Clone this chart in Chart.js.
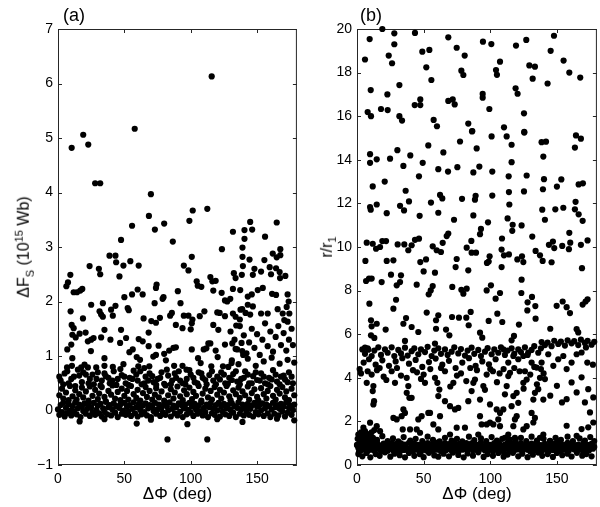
<!DOCTYPE html>
<html>
<head>
<meta charset="utf-8">
<script src="https://cdn.jsdelivr.net/npm/chart.js@4.4.1/dist/chart.umd.min.js"></script>
<style>
body { margin: 0; background: #fff; width: 600px; height: 507px; position: relative; overflow: hidden;
       font-family: "Liberation Sans", Arial, sans-serif; color: #000; }
canvas { position: absolute; top: 0; }
#chartA { left: 0; }
#chartB { left: 300px; }
.panel { position: absolute; top: 5px; font-size: 18px; }
.ytitle { position: absolute; font-size: 16px; white-space: nowrap; transform: translate(-50%, -50%) rotate(-90deg); }
.ytitle sub, .ytitle sup { font-size: 11px; }
</style>
</head>
<body>
<canvas id="chartA" width="300" height="507"></canvas>
<canvas id="chartB" width="300" height="507"></canvas>
<div class="panel" style="left:63px">(a)</div>
<div class="panel" style="left:360px">(b)</div>
<div class="ytitle" style="left:24px; top:247px">&Delta;F<sub>S</sub> (10<sup>15</sup> Wb)</div>
<div class="ytitle" style="left:328px; top:247px">r/r<sub>1</sub></div>
<script>
/* ---------- axes ---------- */
const phiTicks = [0, 50, 100, 150];
const dfTicks = [-1, 0, 1, 2, 3, 4, 5, 6, 7];
const rTicks = [0, 2, 4, 6, 8, 10, 12, 14, 16, 18, 20];

/* ---------- panel (a) : [dPhi (deg), dF_S (1e15 Wb)] ---------- */
const aHigh = [
  [10.3,4.82],[19,5.06],[22.8,4.88],[28,4.17],[31.8,4.17],[57.8,5.17],[115.8,6.13],[70,3.97],[68.5,3.57],
  [73,3.32],[80,3.43],[55.8,3.39],[47.5,3.13],[86.5,3.1],[99,3.48],[101.5,3.67],[112.5,3.7],[131.8,3.28],
  [123.5,2.96],[139,2.99],[38.8,2.84],[43.3,2.84],[43.8,2.72],[49.3,2.66],[54.5,2.74],[60.8,2.66],[23.8,2.65],
  [30.8,2.6],[31.8,2.5],[100.8,2.82],[94.8,2.66],[98.3,2.57],[139,2.82],[144.8,3.46],[164.8,3.45],[140.5,3.31],
  [140.5,3.15],[146.3,3.32],[156,3.19],[167.5,2.96],[167.5,2.85],[144.3,2.77],[155.5,2.76],[159.5,2.63],
  [164.3,2.61],[164.8,2.81],[161.8,2.88],[132.5,2.52],[138.5,2.49],[139.3,2.65],[146.8,2.49],[148,2.6],
  [153,2.55],[160.5,2.5],[167,2.54]
];
const aMid = [
  [46.3,2.46],[6.3,2.28],[7.5,2.35],[9.3,2.49],[11.8,2.17],[14.3,2.17],[16.8,2.2],[18.3,2.23],[25,1.94],
  [33.8,1.97],[50,2.08],[55.8,2.13],[60,2.22],[63.8,2.13],[74.3,2.31],[73.8,2.25],[78.8,2.05],[79.5,2.08],
  [72.8,1.97],[90.3,2.19],[92.3,1.97],[104.5,2.37],[105.3,2.29],[108,2.27],[114.8,2.45],[116.3,2.37],
  [118.8,2.38],[117,2.2],[123.3,2.16],[125.8,2.02],[127.5,2.0],[129.8,2.05],[133.8,2.43],[137.5,1.85],
  [9.5,1.82],[10.3,1.57],[11.8,1.51],[18.8,1.69],[31.3,1.82],[32.5,1.76],[33.8,1.72],[40,1.85],[41.3,1.74],
  [43.3,1.92],[52.5,1.88],[53.3,1.84],[64.5,1.69],[70.3,1.64],[73.8,1.61],[76.8,1.7],[84.5,1.74],[85.8,1.79],
  [88.8,1.57],[93.8,1.51],[94.8,1.74],[98.3,1.74],[100,1.49],[100.8,1.6],[101.3,1.67],[106.8,1.73],
  [110.3,1.82],[117,1.57],[120.8,1.48],[120,1.8],[121.8,1.79],[125.8,1.73],[131.8,1.78],[134.3,1.56],[137,1.67],
  [7,1.12],[10,1.21],[13.3,1.34],[16.3,1.41],[10.8,1.39],[22.5,1.27],[25,1.3],[26.8,1.33],[20.8,1.43],
  [24.8,1.09],[32.5,1.34],[35,1.48],[39.5,1.3],[46.8,1.24],[47.5,1.48],[51.3,1.33],[56.3,1.12],[60.8,1.31],
  [63.8,1.27],[68.3,1.43],[68.3,1.18],[75.8,1.19],[80,1.04],[83.8,1.1],[87,1.15],[88.8,1.16],[100.8,1.12],
  [109.8,1.12],[111.8,1.14],[113.3,1.23],[114.8,1.23],[118.8,1.1],[120.3,0.98],[125.8,1.21],[131.3,1.23],
  [133.8,1.13],[138.3,1.24],[131.8,2.23],[137.3,2.21],[143,2.09],[146,2.13],[150.5,2.21],[154.3,2.25],
  [161.3,2.14],[164.3,2.12],[173,2.13],[173.8,2.0],[172.3,1.9],[138.8,1.86],[143,1.94],[146.8,1.91],
  [133.8,1.72],[141.3,1.79],[144.8,1.76],[153,1.78],[158,1.78],[165.5,1.86],[169.3,1.78],[174.3,1.78],
  [170.5,1.66],[173,1.63],[171.3,2.47],[167.3,2.43],[130,1.45],[133,1.3],[135,1.12],[137,1.55],[140,1.38],
  [142,1.05],[144,1.25],[146,1.5],[148,1.15],[150,1.4],[152,1.02],[154,1.3],[156,1.6],[158,1.18],[160,1.45],
  [162,1.08],[164,1.35],[166,1.55],[168,1.2],[170,1.42],[172,1.1],[174,1.3],[176,1.5],[177,1.2]
];
const aLow = [
  [6.8,0.79],[10.5,0.82],[10.8,0.96],[17.5,0.79],[20,0.84],[22.5,0.79],[28.8,0.79],[35,0.82],[41.3,0.8],
  [35,0.96],[49.3,0.85],[53.8,1.07],[59.3,0.98],[61.8,0.93],[60.5,0.81],[65,0.78],[68.8,0.81],[71.8,0.99],
  [73.8,1.02],[81.3,0.92],[87.5,0.82],[93.8,0.82],[96.8,0.75],[105.5,0.96],[107.5,0.87],[115.5,0.81],
  [124.3,0.81],[128.3,0.8],[130.8,0.87],[139.5,1.02],[138.8,1.09],[131,0.92],[136,0.85],[143,0.95],[149,0.82],
  [155,0.9],[161,0.97],[167,0.86],[173,0.93],[178,0.88],
  [2,0.55],[5,0.68],[8,0.5],[12,0.62],[15,0.75],[18,0.52],[21,0.66],[24,0.58],[27,0.48],[30,0.7],[33,0.55],
  [36,0.63],[39,0.5],[42,0.72],[45,0.58],[48,0.65],[51,0.5],[54,0.6],[57,0.73],[60,0.55],[63,0.48],[66,0.62],
  [69,0.68],[72,0.52],[75,0.58],[78,0.7],[80,0.49],[83,0.64],[86,0.55],[89,0.6],[91,0.72],[94,0.5],[97,0.58],
  [100,0.66],[103,0.52],[106,0.7],[109,0.6],[112,0.48],[114,0.65],[117,0.55],[120,0.62],[123,0.7],[126,0.5],
  [129,0.6],[132,0.67],[135,0.53],[138,0.58],[141,0.72],[144,0.5],[147,0.63],[150,0.56],[153,0.68],[156,0.5],
  [159,0.6],[162,0.74],[165,0.53],[168,0.62],[171,0.57],[174,0.7],[177,0.5],
  [1,0.62],[4,0.48],[7,0.72],[10,0.58],[13,0.45],[16,0.64],[19,0.7],[23,0.5],[26,0.66],[29,0.58],[32,0.46],
  [35,0.68],[38,0.6],[41,0.55],[44,0.47],[47,0.76],[50,0.62],[53,0.47],[56,0.58],[59,0.66],[62,0.72],[65,0.5],
  [68,0.55],[71,0.63],[74,0.47],[77,0.6],[82,0.75],[85,0.48],[88,0.68],[92,0.55],[96,0.48],[99,0.74],[102,0.6],
  [105,0.5],[108,0.68],[111,0.56],[116,0.72],[119,0.48],[122,0.57],[125,0.66],[128,0.49],[131,0.56],
  [134,0.72],[137,0.48],[140,0.6],[143,0.66],[146,0.5],[149,0.7],[152,0.55],[155,0.62],[158,0.48],[161,0.57],
  [164,0.66],[167,0.48],[170,0.64],[173,0.52],[176,0.62]
];
const aUpperBand = [
  [1,0.28],[3,0.4],[4,0.22],[6,0.33],[8,0.19],[9,0.45],[11,0.26],[13,0.37],[14,0.2],[16,0.3],[18,0.42],
  [19,0.24],[21,0.35],[23,0.18],[24,0.44],[26,0.27],[28,0.38],[30,0.21],[31,0.31],[33,0.43],[35,0.25],
  [36,0.17],[38,0.36],[40,0.29],[41,0.46],[43,0.22],[45,0.34],[47,0.19],[48,0.4],[50,0.27],[52,0.36],
  [53,0.2],[55,0.45],[57,0.3],[59,0.23],[60,0.38],[62,0.18],[64,0.32],[66,0.43],[67,0.25],[69,0.36],[71,0.2],
  [73,0.29],[74,0.41],[76,0.24],[78,0.35],[80,0.18],[81,0.46],[83,0.28],[85,0.39],[87,0.22],[88,0.33],
  [90,0.44],[92,0.26],[94,0.19],[95,0.37],[97,0.3],[99,0.42],[101,0.21],[102,0.34],[104,0.27],[106,0.45],
  [108,0.18],[109,0.31],[111,0.4],[113,0.24],[115,0.36],[116,0.2],[118,0.43],[120,0.29],[122,0.38],
  [123,0.22],[125,0.33],[127,0.45],[129,0.26],[130,0.19],[132,0.37],[134,0.3],[136,0.42],[137,0.23],
  [139,0.35],[141,0.28],[143,0.44],[144,0.2],[146,0.32],[148,0.39],[150,0.25],[151,0.18],[153,0.41],
  [155,0.3],[157,0.22],[158,0.36],[160,0.45],[162,0.27],[164,0.2],[165,0.38],[167,0.31],[169,0.43],
  [171,0.24],[172,0.35],[174,0.19],[176,0.4],[178,0.28]
];
const aCore = [
  [0,0.02],[1,-0.08],[2,0.1],[3,-0.03],[4,0.14],[5,-0.11],[6,0.05],[7,-0.05],[8,0.12],[9,0],[10,-0.09],
  [11,0.08],[12,-0.02],[13,0.15],[14,-0.07],[15,0.04],[16,0.11],[17,-0.12],[18,0.07],[19,-0.01],[20,0.13],
  [21,-0.06],[22,0.03],[23,0.1],[24,-0.1],[25,0.06],[26,-0.03],[27,0.14],[28,-0.08],[29,0.01],[30,0.09],
  [31,-0.05],[32,0.12],[33,-0.11],[34,0.04],[35,-0.02],[36,0.16],[37,-0.07],[38,0.06],[39,0.1],[40,-0.09],
  [41,0.02],[42,0.13],[43,-0.04],[44,0.08],[45,-0.12],[46,0.05],[47,0.11],[48,-0.06],[49,0],[50,0.14],
  [51,-0.08],[52,0.07],[53,-0.02],[54,0.1],[55,-0.1],[56,0.03],[57,0.15],[58,-0.05],[59,0.06],[60,-0.11],
  [61,0.12],[62,0.01],[63,-0.07],[64,0.09],[65,-0.03],[66,0.13],[67,-0.09],[68,0.04],[69,0.1],[70,-0.12],
  [71,0.07],[72,-0.01],[73,0.14],[74,-0.06],[75,0.02],[76,0.11],[77,-0.1],[78,0.05],[79,-0.04],[80,0.12],
  [81,-0.08],[82,0.08],[83,0],[84,0.15],[85,-0.11],[86,0.03],[87,0.09],[88,-0.05],[89,0.06],[90,-0.09],
  [91,0.13],[92,-0.02],[93,0.1],[94,-0.12],[95,0.04],[96,0.11],[97,-0.07],[98,0.01],[99,0.14],[100,-0.04],
  [101,0.07],[102,-0.1],[103,0.12],[104,0.02],[105,-0.06],[106,0.09],[107,-0.01],[108,0.15],[109,-0.09],
  [110,0.05],[111,-0.03],[112,0.11],[113,-0.12],[114,0.06],[115,0.13],[116,-0.05],[117,0.03],[118,-0.08],
  [119,0.1],[120,0],[121,0.14],[122,-0.11],[123,0.07],[124,-0.02],[125,0.12],[126,-0.07],[127,0.04],
  [128,0.1],[129,-0.1],[130,0.01],[131,0.13],[132,-0.04],[133,0.08],[134,-0.12],[135,0.05],[136,0.15],
  [137,-0.06],[138,0.02],[139,0.11],[140,-0.09],[141,0.06],[142,-0.01],[143,0.12],[144,-0.08],[145,0.03],
  [146,0.09],[147,-0.11],[148,0.14],[149,-0.03],[150,0.07],[151,-0.07],[152,0.1],[153,0],[154,0.13],
  [155,-0.1],[156,0.04],[157,0.11],[158,-0.05],[159,0.08],[160,-0.12],[161,0.02],[162,0.14],[163,-0.06],
  [164,0.06],[165,0.1],[166,-0.09],[167,0.03],[168,0.12],[169,-0.02],[170,0.07],[171,-0.11],[172,0.15],
  [173,-0.04],[174,0.05],[175,0.09],[176,-0.08],[177,0.01],[178,0.11]
];
const aNeg = [
  [16.3,-0.2],[59.3,-0.24],[97.5,-0.25],[82.5,-0.53],[112.5,-0.53],[139,-0.21],[35,-0.16],[70,-0.17],
  [120,-0.16],[165,-0.15],[178,-0.18]
];

/* ---------- panel (b) : [dPhi (deg), r/r1] ---------- */
const bTop = [
  [19,20.0],[9.5,19.54],[28,19.8],[28,19.3],[43.5,19.82],[6,18.6],[23.8,18.78],[26.3,18.43],[49,18.96],
  [54.3,19.04],[52,18.24],[55.8,17.66],[68.5,19.62],[74.8,19.14],[80.8,18.78],[78.3,18.09],[79.8,17.89],
  [94.5,19.42],[100.8,19.31],[107.3,18.5],[104.3,18.12],[105,17.9],[119.3,19.24],[127,19.5],[129.3,18.33],
  [133.5,18.27],[131.8,17.72],[10.3,17.2],[22.8,17.0],[31.8,17.43],[43.3,16.51],[47.5,16.77],[47.5,16.51],
  [68.5,16.7],[71.8,16.77],[73.3,16.54],[94.3,17.02],[94.3,16.85],[99.3,16.33],[119,17.28],[120.5,17.03],
  [8,16.19],[10.5,16.0],[18,16.33],[23,16.28],[31.8,16.0],[33.8,15.8],[57.5,15.83],[60,15.54],[83.5,15.66],
  [86.5,15.32],[110.3,15.49],[125.3,16.13],[125.5,15.28],
  [147.8,19.69],[145.3,19.0],[155,18.55],[159.3,18.0],[167.5,17.77],[143,17.5],[164.3,15.12],[168,14.97]
];
const bUpper = [
  [86.3,15.3],[101,15.07],[112.3,15.07],[125.5,15.25],[77.3,14.84],[53.5,14.66],[30.3,14.44],[40,14.2],
  [64.8,14.34],[89.8,14.52],[116,14.69],[138.5,14.81],[139.8,14.15],[9.8,14.26],[9.8,13.86],[14.8,14.02],
  [24.8,14.05],[34.8,13.72],[49.3,13.86],[61,13.57],[68.3,13.46],[75.3,13.66],[87.3,13.42],[91.8,13.69],
  [101.5,13.46],[116,13.89],[46.5,13.24],[113.8,13.24],[127.3,13.28],[140.3,13.11],[11.8,12.78],[20.8,13.0],
  [36.5,12.58],[139.5,12.65],[39,12.09],[32.3,11.89],[35.3,11.68],[62.3,12.39],[64,12.23],[55.5,12.04],
  [89,12.35],[88.5,12.17],[101.5,12.36],[114,12.52],[125.3,12.55],[114.3,11.95],[9.8,11.83],[10.3,11.71],
  [14.8,11.95],[22.3,11.55],[47,11.43],[61,11.57],[78.8,12.21],[87.3,11.45],[72.8,11.25],[98.3,11.13],
  [93,10.83],[92.3,10.59],[68.5,10.62],[67.3,10.5],[64.3,10.19],[113,11.31],[116.8,11.02],[116.5,10.74],
  [123.5,10.99],[139,11.71],[141,11.25],[131.5,10.48],[108.8,10.39],[85.8,10.28],[43.5,10.33],[46.5,10.38],
  [30.5,10.12],[19,10.27],[21.8,10.27],[7.3,10.2],[11.8,10.15],
  [141.8,14.83],[163.5,14.56],[153.3,13.1],[150,12.77],[166.3,12.87],[169.5,12.92],[164,12.07],[163.5,11.73],
  [148.8,11.73],[166.3,11.5],[169.3,11.2],[154.8,11.8],[159.3,10.65],[144,10.1],[147,10.25],[148,9.95],
  [154,10.05],[160,10.2],[159,9.9],[168,10.1],[173,10.3],[168.8,9.03],[146,9.3],[149.8,7.3],[154.3,7.5],
  [157.3,7.24],[159.8,6.97],[169.3,7.36],[171.5,7.5],[173,7.6],[145,6.25],[164.8,6.23],[166,6.08]
];
const bMidHigh = [
  [14.3,9.92],[17.3,10.0],[35.5,10.12],[38.5,9.85],[41,10.08],[56.8,10.03],[59.8,9.85],[63,9.77],[82.3,9.97],
  [86,9.74],[89.3,9.74],[99.5,9.57],[98.8,9.33],[97.5,9.27],[108.5,9.88],[110.3,9.62],[114,9.66],[108.5,9.08],
  [120.3,9.43],[124.8,9.31],[123.8,9.57],[134,9.82],[137.3,9.62],[139.3,9.36],[6.3,9.36],[22.3,9.36],
  [27.3,9.39],[47.5,9.31],[51.8,9.43],[50,8.88],[58.5,8.82],[74.8,9.45],[74,9.08],[83.5,8.93],[25.5,8.73],
  [33,8.7],[6.8,8.44],[9,8.55],[11,8.55],[18.5,8.39],[29.8,8.24],[32.3,8.39],[44.8,8.27],[56.8,8.21],
  [55.3,8.01],[53.8,7.83],[71.5,8.17],[78.3,8.04],[79.8,7.86],[82.3,8.09],[97.3,8.01],[100.5,8.24],
  [107.3,7.89],[104,7.63],[123.5,8.5],[123.3,7.89],[131.3,7.71],[128,7.46],[127.8,7.09],[133.8,7.29],
  [9.3,7.4],[29.3,7.58],[27.3,7.17],[52.3,6.99],[61,6.87],[59.3,6.64],[71.3,6.79],[76.5,6.76],[82,6.76],
  [85.3,7.02],[105.3,6.94],[98.8,6.61],[109,6.56],[134,6.71],[10.5,6.64],[14.8,6.48],[11,6.36],[34.8,6.48],
  [36.8,6.74],[41,6.33],[46,6.1],[59.3,6.25],[66.8,6.21],[69.3,5.95],[83.8,6.41],[92.3,6.07],[94,5.84],
  [21.5,6.21],[36,5.69],[10.5,5.95],[13,5.83],[121.5,6.44],[117.8,5.92],[116,5.72],[138.5,5.64],[58.5,5.57],
  [6,5.38],[8.5,5.29]
];
const bBand5 = [
  [4,5.3],[6,5.1],[8,5.35],[11,5.0],[13,5.25],[16,5.4],[18,5.05],[21,5.3],[23,5.15],[26,5.4],[28,5.0],
  [31,5.28],[33,5.12],[36,5.38],[38,5.02],[41,5.22],[43,5.35],[46,5.08],[48,5.3],[51,5.18],[53,5.42],[56,5.0],
  [58,5.25],[61,5.35],[63,5.1],[66,5.3],[68,5.05],[71,5.2],[73,5.4],[76,5.12],[78,5.32],[81,5.02],[83,5.25],
  [86,5.38],[88,5.1],[91,5.28],[93,5.0],[96,5.2],[98,5.36],[101,5.08],[103,5.3],[106,5.15],[108,5.4],
  [111,5.05],[113,5.25],[116,5.35],[118,5.1],[121,5.3],[123,5.18],[126,5.4],[128,5.05],[131,5.28],[133,5.45],
  [136,5.15],[138,5.35],[141,5.5],[143,5.62],[146,5.45],[148,5.7],[151,5.55],[153,5.66],[156,5.48],[158,5.72],
  [161,5.58],[163,5.68],[166,5.5],[168,5.75],[171,5.6],[173,5.7],[176,5.52],[178,5.65],
  [5,4.7],[9,4.85],[14,4.6],[19,4.8],[24,4.55],[29,4.75],[34,4.9],[39,4.65],[44,4.82],[49,4.5],[54,4.72],
  [59,4.88],[64,4.6],[69,4.78],[74,4.45],[79,4.7],[84,4.9],[89,4.55],[94,4.75],[99,4.62],[104,4.85],
  [109.8,5.31],[113.5,4.7],[117.3,5.0],[121,4.85],[124.8,5.0],[128.5,5.16],[131,4.7],[134.8,4.47],
  [138.5,4.7],[143.5,5.08],[147.3,4.55],[151,4.85],[154.8,5.0],[157.3,4.4],[161,4.7],[164.8,5.08],
  [168.5,5.16],[171.8,5.39],[172.8,4.7],[177,4.6]
];
const bMidLow = [
  [7.3,3.77],[11,4.15],[12.3,3.62],[11.8,3.39],[12.8,2.93],[12.3,2.78],[28.5,3.77],[37.3,4.0],[38.5,3.62],
  [37.3,3.31],[39.3,3.08],[41,3.08],[51,3.77],[58.5,4.0],[60.3,3.77],[61.8,3.46],[61,3.16],[66,2.93],
  [69.8,2.7],[73.5,2.55],[76,2.62],[72.3,3.77],[83.5,2.93],[86,3.39],[88.5,3.92],[87.3,3.77],[92.3,3.0],
  [94.8,3.62],[97.3,4.15],[99.8,2.78],[104.8,2.55],[107.3,2.39],[109.8,2.55],[111,3.24],[112.3,3.62],
  [113.5,4.08],[114.8,4.23],[117.3,3.16],[119.8,3.31],[124.8,3.77],[127.3,3.92],[132.3,3.0],[133.5,3.31],
  [137.3,4.0],[139.8,3.0],[116,2.7],[121,2.85],
  [2,4.4],[8,4.3],[17,4.45],[20,4.05],[30,4.45],[42,4.35],[50,4.15],[63,4.45],[75,4.1],[85,4.45],[100,4.4],
  [107,4.2],[118,4.45],[126,4.3],[133,4.5],[140,4.2],[3,4.2],[15,4.35],[22,3.9],[26,4.3],[33,4.1],[45,4.25],
  [48,3.95],[55,4.4],[66,4.3],[70,3.6],[78,4.2],[82,3.85],[90,4.35],[96,3.45],[102,4.3],[105,3.8],[110,4.4],
  [122,4.3],[125,3.5],[130,4.15],[135,3.7],[138,4.4],
  [136,3.48],[141,3.94],[145,3.18],[150,3.63],[153.8,2.87],[157.3,3.02],[161,3.79],[164.8,3.33],
  [168.5,4.02],[171,2.87],[173.5,3.48],[174.8,2.41],[177.3,3.1]
];
const bLow = [
  [9.8,1.94],[14.8,1.78],[17.3,1.55],[6,1.55],[4.8,1.71],[27.3,2.16],[29.8,2.09],[33.5,2.24],[36,2.39],
  [34.8,2.55],[34.3,1.63],[39.8,1.63],[44.8,1.63],[47.3,1.48],[46,2.09],[48.5,2.24],[53.5,2.39],[54.8,2.39],
  [57.3,1.86],[61,1.63],[62.3,2.24],[69.8,1.4],[74.8,1.71],[81,1.71],[92.3,2.24],[93.5,1.86],[91,1.4],
  [97.3,1.86],[99.8,1.94],[102.3,1.86],[106,2.09],[107.3,1.78],[113.5,1.4],[117.3,1.78],[118.5,2.09],
  [119.8,2.24],[124.8,1.63],[127.3,1.78],[131,2.39],[133.5,2.16],[137.3,1.25],[139.8,1.4],[111,1.25],
  [114.8,1.17],[118.5,1.25],[132.3,1.95],[144.8,1.11],[151,1.11],[157.3,1.8],[164.8,1.34],[168.5,1.65],
  [173.5,1.73],[177.3,1.95],
  [0.5,1.2],[1,1.4],[2,1.3],[1.5,0.6],[3,1.5],[4,1.25],[2.5,1.1],[5,1.35],[6,1.15],[7,1.45],[8,1.2],
  [9,1.05],[10,1.3],[11,1.5],[12,1.15],[0.3,0.9],[13,1.6]
];
const bCore = [
  [0,0.92],[1,0.78],[2,1.02],[3,0.68],[4,0.88],[5,0.97],[6,0.72],[7,0.85],[8,0.64],[9,1.0],[10,0.8],
  [11,0.7],[12,0.95],[13,0.66],[14,0.86],[15,1.03],[16,0.74],[17,0.9],[18,0.62],[19,0.82],[20,0.98],
  [21,0.7],[22,0.88],[23,0.65],[24,0.93],[25,0.76],[26,1.01],[27,0.68],[28,0.84],[29,0.96],[30,0.71],
  [31,0.87],[32,0.63],[33,0.99],[34,0.78],[35,0.69],[36,0.94],[37,0.8],[38,0.66],[39,1.02],[40,0.73],
  [41,0.89],[42,0.64],[43,0.97],[44,0.77],[45,0.7],[46,0.92],[47,0.83],[48,0.61],[49,0.98],[50,0.75],
  [51,0.88],[52,0.67],[53,1.0],[54,0.79],[55,0.72],[56,0.95],[57,0.65],[58,0.86],[59,1.03],[60,0.7],
  [61,0.82],[62,0.94],[63,0.63],[64,0.88],[65,0.77],[66,1.0],[67,0.69],[68,0.84],[69,0.96],[70,0.72],
  [71,0.66],[72,0.9],[73,1.02],[74,0.76],[75,0.85],[76,0.62],[77,0.97],[78,0.8],[79,0.7],[80,0.93],
  [81,0.74],[82,1.01],[83,0.65],[84,0.87],[85,0.78],[86,0.99],[87,0.68],[88,0.83],[89,0.95],[90,0.71],
  [91,0.64],[92,0.9],[93,1.03],[94,0.75],[95,0.86],[96,0.67],[97,0.96],[98,0.79],[99,0.7],[100,0.92],
  [101,0.82],[102,0.63],[103,1.0],[104,0.76],[105,0.88],[106,0.69],[107,0.97],[108,0.73],[109,0.84],
  [110,0.61],[111,0.94],[112,0.78],[113,1.02],[114,0.68],[115,0.87],[116,0.74],[117,0.99],[118,0.66],
  [119,0.85],[120,0.93],[121,0.71],[122,0.8],[123,1.01],[124,0.64],[125,0.89],[126,0.77],[127,0.96],
  [128,0.7],[129,0.83],[130,0.62],[131,0.98],[132,0.75],[133,0.87],[134,0.68],[135,1.03],[136,0.79],
  [137,0.72],[138,0.91],[139,0.66],[140,0.86],[141,0.97],[142,0.73],[143,0.81],[144,0.63],[145,0.95],
  [146,0.78],[147,0.69],[148,0.9],[149,1.0],[150,0.74],[151,0.84],[152,0.65],[153,0.96],[154,0.8],
  [155,0.7],[156,0.93],[157,0.76],[158,1.02],[159,0.67],[160,0.88],[161,0.79],[162,0.98],[163,0.71],
  [164,0.85],[165,0.64],[166,0.94],[167,0.77],[168,0.89],[169,0.68],[170,1.01],[171,0.82],[172,0.73],
  [173,0.92],[174,0.66],[175,0.86],[176,0.97],[177,0.75],[178,0.83]
];
const bEdge = [
  [1,0.5],[4,0.4],[7,0.55],[10,0.35],[14,0.5],[17,0.42],[21,0.58],[25,0.38],[28,0.52],[32,0.45],[36,0.35],
  [39,0.55],[43,0.42],[47,0.5],[50,0.36],[54,0.56],[58,0.44],[61,0.38],[65,0.52],[69,0.4],[72,0.57],[76,0.46],
  [80,0.35],[83,0.53],[87,0.43],[91,0.58],[95,0.37],[98,0.5],[102,0.42],[106,0.55],[110,0.38],[113,0.48],
  [117,0.56],[121,0.4],[124,0.52],[128,0.36],[132,0.47],[136,0.57],[139,0.42],[143,0.5],[147,0.37],[150,0.55],
  [154,0.45],[158,0.52],[161,0.39],[165,0.56],[169,0.43],[172,0.5],[176,0.4],
  [2,1.2],[5,1.3],[8,1.1],[12,1.25],[15,1.15],[19,1.32],[23,1.1],[27,1.22],[31,1.08],[35,1.28],[40,1.12],
  [44,1.2],[49,1.1],[53,1.3],[57,1.15],[62,1.08],[66,1.25],[71,1.12],[75,1.2],[79,1.08],[84,1.3],[88,1.14],
  [93,1.22],[97,1.1],[101,1.28],[105,1.12],[109,1.2],[114,1.08],[119,1.15],[123,1.25],[127,1.1],[131,1.3],
  [135,1.12],[140,1.2],[145,1.08],[149,1.25],[153,1.15],[158,1.3],[162,1.1],[167,1.22],[171,1.12],
  [175,1.28],[178,1.1]
];

/* ---------- helpers ---------- */
const toXY = arr => arr.map(p => ({ x: p[0], y: p[1] }));
const FONT = "'Liberation Sans', Arial, sans-serif";

// MATLAB style box with inward ticks on all four sides
const boxTicks = {
    id: "boxTicks",
    beforeDatasetsDraw(chart) {
        const { ctx, chartArea: a, scales } = chart;
        ctx.save();
        ctx.strokeStyle = "#262626";
        ctx.lineWidth = 1;
        ctx.strokeRect(a.left + 0.5, a.top + 0.5, a.right - a.left - 1, a.bottom - a.top - 1);
        ctx.beginPath();
        scales.x.ticks.forEach(t => {
            const px = Math.round(scales.x.getPixelForValue(t.value)) + 0.5;
            ctx.moveTo(px, a.bottom); ctx.lineTo(px, a.bottom - 4);
            ctx.moveTo(px, a.top); ctx.lineTo(px, a.top + 4);
        });
        scales.y.ticks.forEach(t => {
            const py = Math.round(scales.y.getPixelForValue(t.value)) + 0.5;
            ctx.moveTo(a.left, py); ctx.lineTo(a.left + 4, py);
            ctx.moveTo(a.right, py); ctx.lineTo(a.right - 4, py);
        });
        ctx.stroke();
        ctx.restore();
    }
};

function makePanel(canvasId, sets, yMin, yMax, yTicks, padRight, yWidth) {
    return new Chart(document.getElementById(canvasId), {
        type: "scatter",
        data: {
            datasets: [{
                data: toXY([].concat(...sets)),
                pointRadius: 3.1,
                pointHoverRadius: 3.1,
                backgroundColor: "#000",
                borderWidth: 0,
                clip: false
            }]
        },
        options: {
            responsive: false,
            animation: false,
            events: [],
            layout: { padding: { top: 29, right: padRight, bottom: 0, left: 0 } },
            plugins: { legend: { display: false }, tooltip: { enabled: false } },
            scales: {
                x: {
                    type: "linear", min: 0, max: 180,
                    grid: { display: false, drawTicks: false },
                    border: { display: false },
                    afterBuildTicks: s => { s.ticks = phiTicks.map(v => ({ value: v })); },
                    afterFit: s => { s.height = 42; },
                    ticks: { color: "#000", padding: 6, font: { family: FONT, size: 14 } },
                    title: { display: true, text: "ΔΦ (deg)", color: "#000",
                             padding: { top: 0, bottom: 2 }, font: { family: FONT, size: 17 } }
                },
                y: {
                    type: "linear", min: yMin, max: yMax,
                    grid: { display: false, drawTicks: false },
                    border: { display: false },
                    afterBuildTicks: s => { s.ticks = yTicks.map(v => ({ value: v })); },
                    afterFit: s => { s.width = yWidth; },
                    ticks: { color: "#000", padding: 5, font: { family: FONT, size: 14 },
                             callback: v => (v < 0 ? "\u2212" + Math.abs(v) : String(v)) }
                }
            }
        },
        plugins: [boxTicks]
    });
}

makePanel("chartA", [aCore, aUpperBand, aLow, aMid, aHigh, aNeg], -1, 7, dfTicks, 2, 58);
makePanel("chartB", [bCore, bEdge, bLow, bMidLow, bBand5, bMidHigh, bUpper, bTop], 0, 20, rTicks, 3, 57);
</script>
</body>
</html>
